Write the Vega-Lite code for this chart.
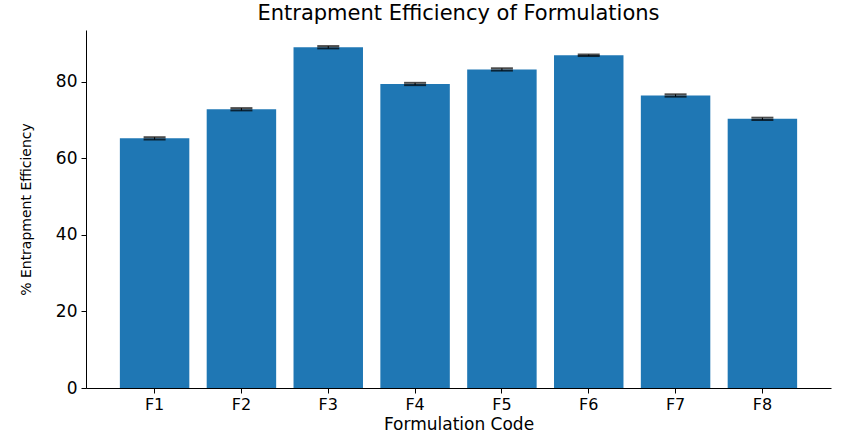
{
  "$schema": "https://vega.github.io/schema/vega-lite/v6.json",
  "autosize": "none",
  "width": 745,
  "height": 358,
  "padding": {"left": 86, "right": 14, "top": 30, "bottom": 52},
  "background": "white",
  "title": {
    "text": "Entrapment Efficiency of Formulations",
    "font": "DejaVu Sans",
    "fontSize": 21,
    "fontWeight": "normal",
    "color": "black",
    "anchor": "middle",
    "offset": 6
  },
  "config": {
    "view": {"stroke": null},
    "axis": {
      "labelFont": "DejaVu Sans",
      "titleFont": "DejaVu Sans",
      "labelColor": "black",
      "titleColor": "black",
      "domainColor": "black",
      "tickColor": "black",
      "titleFontWeight": "normal",
      "grid": false,
      "tickSize": 5
    }
  },
  "data": {
    "values": [
      {"code": "F1", "ee": 65.2, "sd": 0.3},
      {"code": "F2", "ee": 72.8, "sd": 0.3},
      {"code": "F3", "ee": 89.0, "sd": 0.3},
      {"code": "F4", "ee": 79.4, "sd": 0.3},
      {"code": "F5", "ee": 83.2, "sd": 0.3},
      {"code": "F6", "ee": 86.9, "sd": 0.2},
      {"code": "F7", "ee": 76.4, "sd": 0.3},
      {"code": "F8", "ee": 70.3, "sd": 0.3}
    ]
  },
  "encoding": {
    "x": {
      "field": "code",
      "type": "nominal",
      "sort": null,
      "title": "Formulation Code",
      "scale": {"paddingInner": 0.2, "paddingOuter": 0.39},
      "axis": {
        "labelAngle": 0,
        "labelFontSize": 16,
        "titleFontSize": 17,
        "labelPadding": 3,
        "titlePadding": 4
      }
    }
  },
  "layer": [
    {
      "mark": {"type": "bar", "color": "#1f77b4"},
      "encoding": {
        "y": {
          "field": "ee",
          "type": "quantitative",
          "title": "% Entrapment Efficiency",
          "scale": {"domain": [0, 93.5], "nice": false},
          "axis": {
            "values": [0, 20, 40, 60, 80],
            "labelFontSize": 17,
            "titleFontSize": 14,
            "labelPadding": 4,
            "titlePadding": 22
          }
        }
      }
    },
    {
      "mark": {
        "type": "errorbar",
        "color": "black",
        "ticks": {"size": 22, "thickness": 2, "color": "black"}
      },
      "encoding": {
        "y": {"field": "ee", "type": "quantitative", "title": "% Entrapment Efficiency"},
        "yError": {"field": "sd"}
      }
    }
  ]
}
